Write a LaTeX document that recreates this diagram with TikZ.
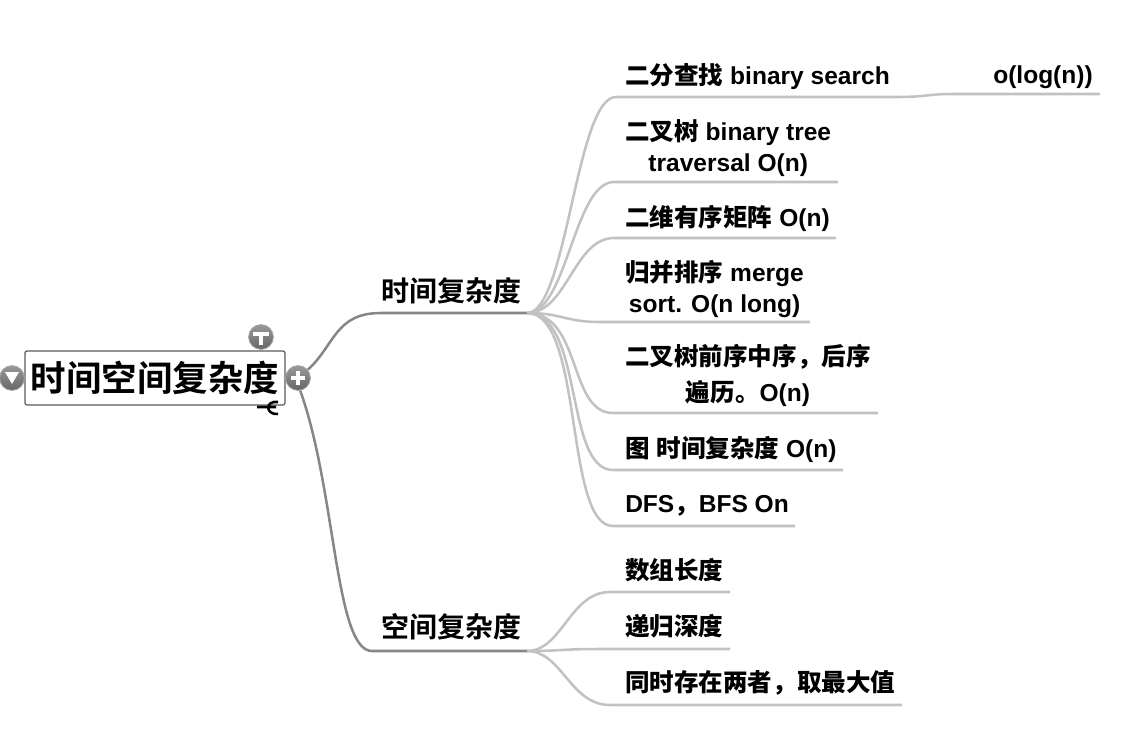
\documentclass[tikz,border=0pt]{standalone}
\usepackage{fontspec}
\setmainfont{Liberation Sans}[BoldFont={Liberation Sans Bold}]
\newfontfamily\cjkfont{Noto Sans CJK SC Bold}
\newcommand{\zh}[1]{{\cjkfont #1}}
\usepackage{xcolor}
\usepackage{tikz}
\definecolor{trunkgray}{gray}{0.53}
\definecolor{leafgray}{gray}{0.76}

\begin{document}
\begin{tikzpicture}[x=0.75pt,y=-0.75pt,
    trunk/.style={draw=trunkgray,line width=1.9pt},
    leafline/.style={draw=leafgray,line width=1.9pt},
    leaftext/.style={inner sep=0pt,anchor=west,align=center,font=\fontsize{18.4}{23.25}\selectfont\bfseries},
    midtext/.style={inner sep=0pt,anchor=west,font=\fontsize{21}{25}\selectfont},
    button/.style={circle,minimum size=18.6pt,inner sep=0pt,draw=black!35,line width=0.6pt,top color=black!40,bottom color=black!60}]
    \useasboundingbox (0,0) rectangle (1130,732);

    % Root node and its buttons
    \node[draw=black!65,line width=0.9pt,rounded corners=1.5pt,minimum width=195pt,minimum height=40.5pt,inner sep=0pt,
        font=\fontsize{26.6}{30}\selectfont] (root) at (155,378) {\zh{时间空间复杂度}};
    \node[button] (topicbtn) at (261,337) {};
    \node[button] (foldbtn) at (12,378) {};
    \node[button] (plusbtn) at (298,378) {};
    \draw[white,line width=2.8pt] (253,334) -- (269,334) (261,334) -- (261,345);
    \fill[white] (5,372) -- (19,372) -- (12,384) -- cycle;
    \draw[white,line width=2.6pt] (291,378) -- (305,378) (298,371) -- (298,385);
    % Small mark under the box
    \draw[black,line width=1.9pt] (257,407) -- (276,407)
        (278,402) .. controls (265,400) and (265,415) .. (278,414);

    % Middle branches
    \coordinate (timea) at (381,313);
    \coordinate (timeb) at (527,313);
    \coordinate (spacea) at (372,651);
    \coordinate (spaceb) at (527,651);
    \node[midtext] (timetext) at (381,291) {\zh{时间复杂度}};
    \node[midtext] (spacetext) at (381,627) {\zh{空间复杂度}};
    \draw[trunk] (plusbtn.40) .. controls (335,345) and (335,313) .. (timea) -- (timeb);
    \draw[trunk] (plusbtn.-80) .. controls (336,490) and (335,651) .. (spacea) -- (spaceb);

    % Leaf lines under the time branch
    \foreach \name/\ypos/\xbend/\ca/\cb/\xend in {tree/182/614/40/40/838,matrix/238/614/40/40/836,merge/322/600/35/35/810,order/413/613/55/45/878,graph/470/613/57/49/843,dfs/526/613/57/49/795}{
        \coordinate (\name a) at (\xbend,\ypos);
        \coordinate (\name b) at (\xend,\ypos);
        \draw[leafline] (timeb) .. controls +(\ca,0) and +(-\cb,0) .. (\name a) -- (\name b);
    }
    % First leaf goes on to its own child
    \coordinate (searcha) at (616,97);
    \coordinate (searchb) at (899,97);
    \coordinate (logb) at (953,94);
    \coordinate (loge) at (1100,94);
    \draw[leafline] (timeb) .. controls +(40,0) and +(-40,0) .. (searcha) -- (searchb)
        .. controls +(25,0) and +(-25,0) .. (logb) -- (loge);

    % Leaf lines under the space branch
    \foreach \name/\ypos/\xbend/\xend in {array/592/610/730,depth/649/600/730,both/705/610/902}{
        \coordinate (\name a) at (\xbend,\ypos);
        \coordinate (\name b) at (\xend,\ypos);
        \draw[leafline] (spaceb) .. controls +(35,0) and +(-40,0) .. (\name a) -- (\name b);
    }

    % Leaf labels
    \node[leaftext] (search) at (625,77) {\zh{二分查找} binary search};
    \node[leaftext] (log) at (993,77) {o(log(n))};
    \node[leaftext] (tree) at (625,148) {\zh{二叉树} binary tree\\traversal O(n)};
    \node[leaftext] (matrix) at (625,218) {\zh{二维有序矩阵} O(n)};
    \node[leaftext] (merge) at (625,289) {\zh{归并排序} merge\\sort. O(n long)};
    \node[leaftext] (order) at (625,375) {\zh{二叉树前序中序，后序}\\[3.75pt]\zh{遍历。}O(n)};
    \node[leaftext] (graph) at (625,449) {\zh{图} \zh{时间复杂度} O(n)};
    \node[leaftext] (dfs) at (625,506) {DFS\zh{，}BFS On};
    \node[leaftext] (array) at (625,570) {\zh{数组长度}};
    \node[leaftext] (depth) at (625,626) {\zh{递归深度}};
    \node[leaftext] (both) at (625,683) {\zh{同时存在两者，取最大值}};
\end{tikzpicture}
\end{document}
